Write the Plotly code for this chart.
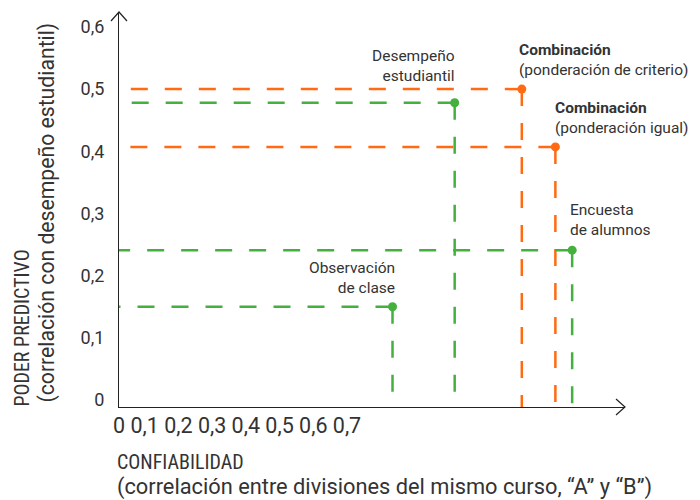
import plotly.graph_objects as go

# data
measures = ["Observación de clase", "Desempeño estudiantil", "Combinación (ponderación de criterio)",
            "Combinación (ponderación igual)", "Encuesta de alumnos"]
reliability = [0.44, 0.54, 0.648, 0.702, 0.729]
predictive_power = [0.15, 0.478, 0.5, 0.407, 0.241]
groups = ["single", "single", "combo", "combo", "single"]
y_ticks = [0, 0.1, 0.2, 0.3, 0.4, 0.5, 0.6]
y_tick_labels = ["0", "0,1", "0,2", "0,3", "0,4", "0,5", "0,6"]
x_tick_labels = ["0", "0,1", "0,2", "0,3", "0,4", "0,5", "0,6", "0,7"]

ORANGE = "#FF6A13"
GREEN = "#44B03E"
TEXT = "#333333"
FONT = "Roboto, Arial, sans-serif"
NARROW = "Liberation Sans Narrow, Roboto Condensed, Roboto, sans-serif"

X_MAX = 0.814
Y_MIN, Y_MAX = -0.0113, 0.624

fig = go.Figure()

# dashed guide lines, drawn from the point outwards so the dash ends at the dot
for x, y, g in zip(reliability, predictive_power, groups):
    col = ORANGE if g == "combo" else GREEN
    fig.add_trace(go.Scatter(x=[x, 0], y=[y, y], mode="lines", hoverinfo="skip",
                             line=dict(color=col, width=2.5, dash="17px,17px"), showlegend=False))
    fig.add_trace(go.Scatter(x=[x, x], y=[y, Y_MIN], mode="lines", hoverinfo="skip",
                             line=dict(color=col, width=2.5, dash="17px,17px"), showlegend=False))

fig.add_trace(go.Scatter(
    x=reliability, y=predictive_power, mode="markers", text=measures,
    marker=dict(size=9, color=[ORANGE if g == "combo" else GREEN for g in groups]),
    showlegend=False, cliponaxis=False
))

# labels next to the points
labels = [
    ("Observación<br>de clase", "right", 4, 8),
    ("Desempeño<br>estudiantil", "right", 2, 16),
    ("<b>Combinación</b><br>(ponderación de criterio)", "left", -5, 8),
    ("<b>Combinación</b><br>(ponderación igual)", "left", -2, 8),
    ("Encuesta<br>de alumnos", "left", -4, 9),
]
for (txt, anchor, dx, dy), x, y in zip(labels, reliability, predictive_power):
    fig.add_annotation(x=x, y=y, text=txt, showarrow=False, xanchor=anchor, yanchor="bottom",
                       align=anchor, xshift=dx, yshift=dy,
                       font=dict(family=FONT, size=15.5, color=TEXT))

# x tick labels (typed as one run of text, as in the original)
fig.add_annotation(x=-0.016, y=-0.0456, xref="paper", yref="paper", text=" ".join(x_tick_labels),
                   showarrow=False, xanchor="left", yanchor="middle",
                   font=dict(family=FONT, size=21.5, color=TEXT))

# axis titles
fig.add_annotation(x=-0.008, y=-0.139, xref="paper", yref="paper", text="CONFIABILIDAD",
                   showarrow=False, xanchor="left", yanchor="middle",
                   font=dict(family=NARROW, size=20, color=TEXT))
fig.add_annotation(x=-0.008, y=-0.2025, xref="paper", yref="paper",
                   text="(correlación entre divisiones del mismo curso, “A” y “B”)",
                   showarrow=False, xanchor="left", yanchor="middle",
                   font=dict(family=FONT, size=21.8, color=TEXT))
fig.add_annotation(x=-0.1917, y=0.201, xref="paper", yref="paper", text="PODER PREDICTIVO",
                   showarrow=False, xanchor="center", yanchor="middle", textangle=-90,
                   font=dict(family=NARROW, size=20, color=TEXT))
fig.add_annotation(x=-0.1423, y=0.4924, xref="paper", yref="paper",
                   text="(correlación con desempeño estudiantil)",
                   showarrow=False, xanchor="center", yanchor="middle", textangle=-90,
                   font=dict(family=FONT, size=21.2, color=TEXT))

# open arrow heads on the axes (paper refs so they are not clipped)
fig.add_shape(type="path", xref="paper", yref="paper", xsizemode="pixel", ysizemode="pixel",
              xanchor=1, yanchor=0, path="M -9,8 L 0,0 L -9,-8",
              line=dict(color="#222", width=1.2))
fig.add_shape(type="path", xref="paper", yref="paper", xsizemode="pixel", ysizemode="pixel",
              xanchor=0, yanchor=1, path="M -8,-9 L 0,0 L 8,-9",
              line=dict(color="#222", width=1.2))

fig.update_xaxes(range=[0, X_MAX], showline=True, linecolor="#222", linewidth=1.2,
                 showgrid=False, zeroline=False, showticklabels=False, ticks="", automargin=False)
fig.update_yaxes(range=[Y_MIN, Y_MAX], showline=True, linecolor="#222", linewidth=1.2,
                 showgrid=False, zeroline=False, tickvals=y_ticks, ticktext=y_tick_labels,
                 ticks="", ticklabelstandoff=10, automargin=False,
                 tickfont=dict(family=FONT, size=18, color=TEXT))

# page body adds an 8px offset, so the figure is sized to fit the 700x500 window
fig.update_layout(
    width=692, height=492,
    margin=dict(l=111, r=75, t=4, b=93),
    plot_bgcolor="white", paper_bgcolor="white",
    font=dict(family=FONT, color=TEXT),
)

fig.write_html("out.html")
